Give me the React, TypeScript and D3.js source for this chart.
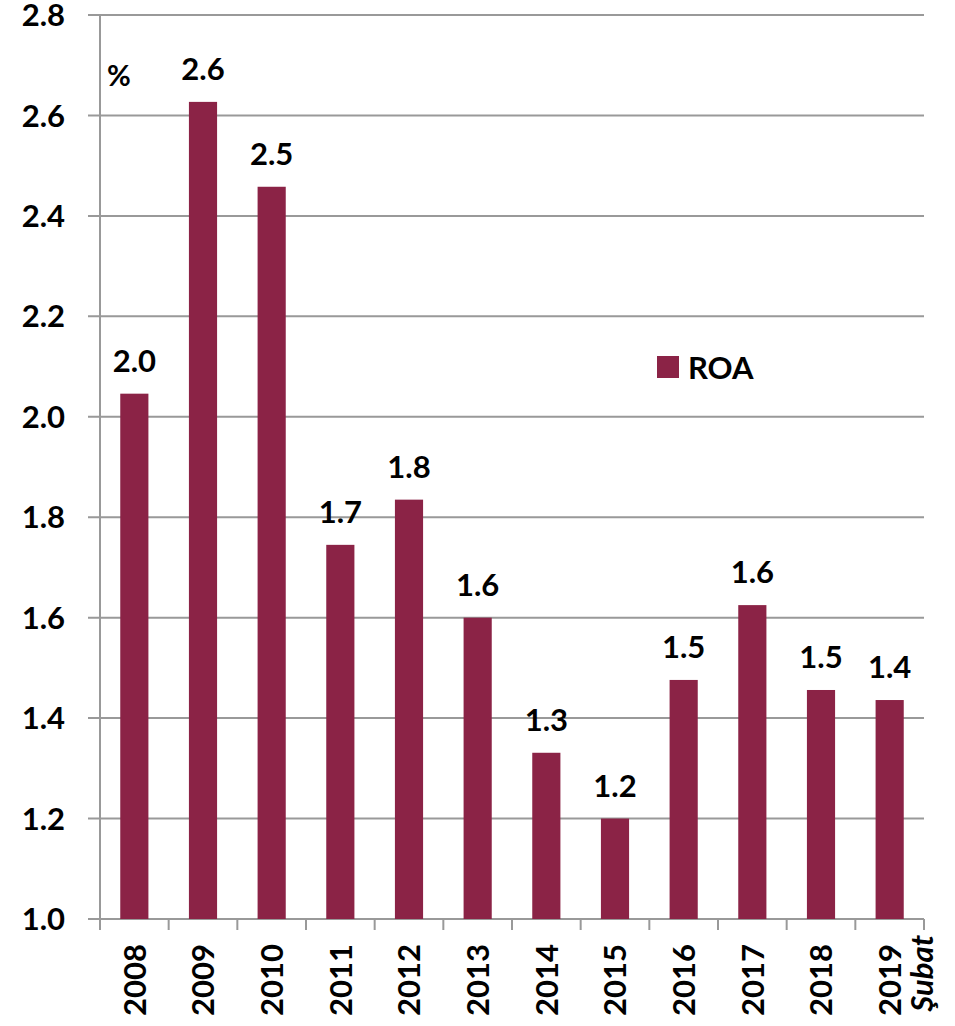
import React, { useEffect, useRef } from 'react';
import * as d3 from 'd3';

// ROA by year
const years = ['2008', '2009', '2010', '2011', '2012', '2013', '2014', '2015', '2016', '2017', '2018', '2019'];
const roa = [2.046, 2.627, 2.458, 1.745, 1.835, 1.6, 1.331, 1.2, 1.476, 1.625, 1.456, 1.436];
const valueLabels = ['2.0', '2.6', '2.5', '1.7', '1.8', '1.6', '1.3', '1.2', '1.5', '1.6', '1.5', '1.4'];
const yTicks = [1.0, 1.2, 1.4, 1.6, 1.8, 2.0, 2.2, 2.4, 2.6, 2.8];

const FONT = 'Lato, "Open Sans", sans-serif';
const BAR = '#8B2346';

const App = () => {
  const ref = useRef<SVGSVGElement>(null);

  useEffect(() => {
    const svg = d3.select(ref.current);
    svg.selectAll('*').remove();

    const width = 955;
    const height = 1026;
    const margin = { top: 15, right: 31, bottom: 107, left: 100 };

    const x = d3.scaleBand()
      .domain(years)
      .range([margin.left, width - margin.right])
      .paddingInner(0.59)
      .paddingOuter(0.295);

    const y = d3.scaleLinear()
      .domain([1.0, 2.8])
      .range([height - margin.bottom, margin.top]);

    // gridlines
    svg.append('g')
      .selectAll('line')
      .data(yTicks)
      .join('line')
      .attr('x1', margin.left - 12)
      .attr('x2', width - margin.right)
      .attr('y1', d => y(d))
      .attr('y2', d => y(d))
      .attr('stroke', '#999')
      .attr('stroke-width', 2);

    // y axis line
    svg.append('line')
      .attr('x1', margin.left).attr('x2', margin.left)
      .attr('y1', y(2.8)).attr('y2', y(1.0) + 11)
      .attr('stroke', '#999').attr('stroke-width', 2);

    // y tick labels
    svg.append('g')
      .selectAll('text')
      .data(yTicks)
      .join('text')
      .attr('x', 65)
      .attr('y', d => y(d))
      .attr('dy', '0.36em')
      .attr('text-anchor', 'end')
      .style('font-family', FONT)
      .style('font-weight', 700)
      .style('font-size', '31px')
      .text(d => d.toFixed(1));

    // bars
    svg.append('g')
      .selectAll('rect')
      .data(roa)
      .join('rect')
      .attr('x', (d, i) => x(years[i])!)
      .attr('y', d => y(d))
      .attr('width', x.bandwidth())
      .attr('height', d => y(1.0) - y(d))
      .attr('fill', BAR);

    // x tick marks at band boundaries
    const step = x.step();
    const bounds = d3.range(years.length + 1).map(i => margin.left + (i - 0.295 + 0.295) * step);
    svg.append('g')
      .selectAll('line')
      .data(bounds)
      .join('line')
      .attr('x1', d => d).attr('x2', d => d)
      .attr('y1', y(1.0)).attr('y2', y(1.0) + 11)
      .attr('stroke', '#999').attr('stroke-width', 2);

    // value labels
    svg.append('g')
      .selectAll('text')
      .data(roa)
      .join('text')
      .attr('x', (d, i) => x(years[i])! + x.bandwidth() / 2)
      .attr('y', d => y(d) - 22)
      .attr('text-anchor', 'middle')
      .style('font-family', FONT)
      .style('font-weight', 700)
      .style('font-size', '31px')
      .text((d, i) => valueLabels[i]);

    // year labels, rotated
    svg.append('g')
      .selectAll('text')
      .data(years)
      .join('text')
      .attr('transform', d => `translate(${x(d)! + x.bandwidth() / 2},944) rotate(-90)`)
      .attr('dy', '0.36em')
      .attr('text-anchor', 'end')
      .style('font-family', FONT)
      .style('font-weight', 700)
      .style('font-size', '31px')
      .text(d => d);

    svg.append('text')
      .attr('transform', `translate(922,935) rotate(-90)`)
      .attr('dy', '0.36em')
      .attr('text-anchor', 'end')
      .style('font-family', FONT)
      .style('font-weight', 700)
      .style('font-style', 'italic')
      .style('font-size', '31px')
      .text('Şubat');

    // % label
    svg.append('text')
      .attr('x', 107)
      .attr('y', 86)
      .style('font-family', FONT)
      .style('font-weight', 700)
      .style('font-size', '29px')
      .text('%');

    // legend
    svg.append('rect')
      .attr('x', 657).attr('y', 356)
      .attr('width', 22).attr('height', 22)
      .attr('fill', BAR);
    svg.append('text')
      .attr('x', 688).attr('y', 368)
      .attr('dy', '0.36em')
      .style('font-family', FONT)
      .style('font-weight', 700)
      .style('font-size', '31px')
      .text('ROA');
  }, []);

  return (
    <svg ref={ref} width={955} height={1026}
      style={{ position: 'absolute', left: 0, top: 0, background: '#fff' }} />
  );
};

export default App;
